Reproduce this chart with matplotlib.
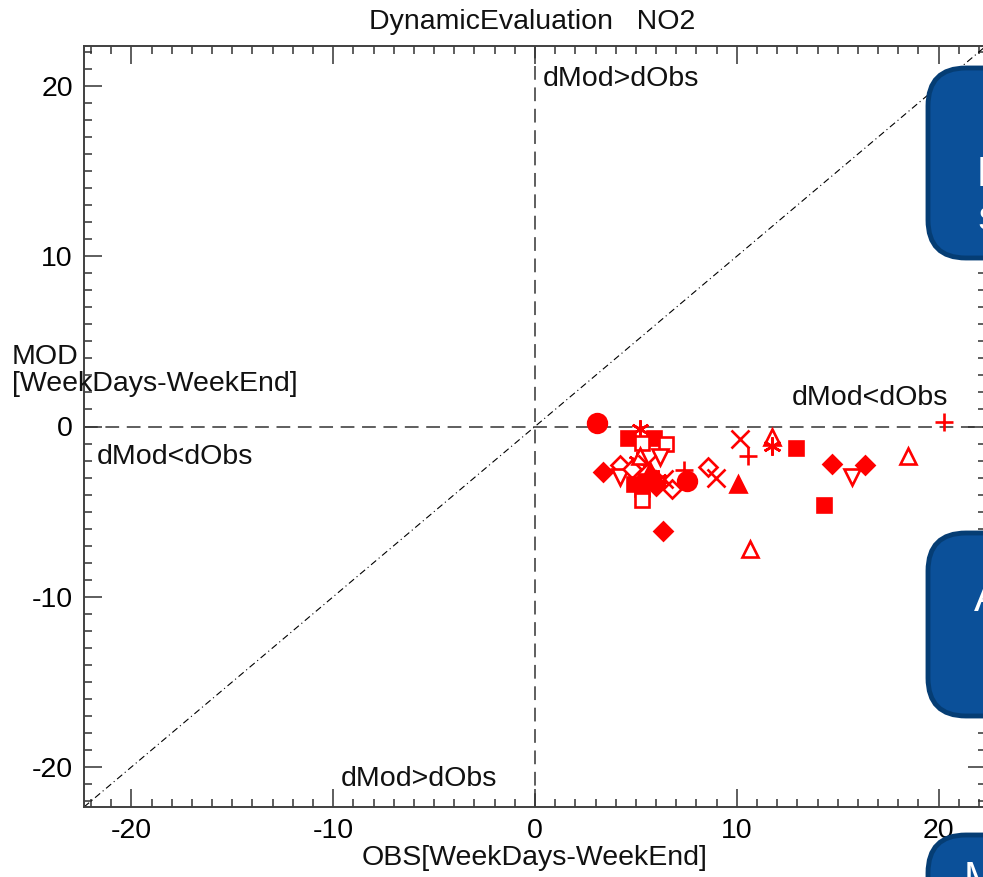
import matplotlib
matplotlib.use("Agg")
import matplotlib.pyplot as plt
from matplotlib.patches import FancyBboxPatch
from matplotlib.transforms import IdentityTransform
from matplotlib.ticker import MultipleLocator

plt.rcParams["font.family"] = ["Liberation Sans", "DejaVu Sans"]
plt.rcParams["axes.unicode_minus"] = False

# station values: OBS and MOD weekday-weekend differences
obs = [3.07, 5.20, 4.60, 5.89, 5.30, 6.49, 6.19, 3.37, 4.21, 5.05,
       4.21, 4.80, 5.45, 5.79, 5.30, 5.30, 6.09, 6.78, 7.52, 7.38,
       8.56, 8.96, 6.34, 10.15, 10.54, 10.05, 11.73, 11.73, 12.92, 14.31,
       10.64, 14.70, 16.34, 15.69, 18.47, 20.25, 6.39, 5.69, 5.20, 4.90,
       6.00, 5.55]
mod = [0.18, -0.12, -0.65, -0.65, -0.94, -1.00, -1.82, -2.65, -2.24, -2.00,
       -2.94, -2.47, -3.18, -2.94, -3.65, -4.29, -3.06, -3.70, -3.18, -2.53,
       -2.35, -3.00, -6.12, -0.71, -1.71, -3.35, -0.59, -1.12, -1.24, -4.59,
       -7.18, -2.18, -2.29, -2.94, -1.71, 0.29, -3.06, -2.59, -1.76, -3.40,
       -3.50, -2.20]
kind = ["circle", "asterisk", "square", "square", "square_open", "square_open", "tri_down_open",
        "diamond", "diamond_open", "asterisk", "tri_down_open", "diamond_open", "square", "diamond",
        "square", "square_open", "asterisk", "diamond_open", "circle", "plus",
        "diamond_open", "cross", "diamond", "cross", "plus", "tri_up", "tri_up_open", "asterisk",
        "square", "square", "tri_up_open", "diamond", "diamond", "tri_down_open", "tri_up_open",
        "plus", "cross", "tri_up", "tri_up_open", "square", "diamond", "cross"]

styles = {
    "circle": dict(marker="o", ms=13.5, filled=True),
    "square": dict(marker="s", ms=10, filled=True),
    "square_open": dict(marker="s", ms=10, filled=False),
    "diamond": dict(marker="D", ms=9, filled=True),
    "diamond_open": dict(marker="D", ms=9, filled=False),
    "tri_up": dict(marker="^", ms=11.5, filled=True),
    "tri_up_open": dict(marker="^", ms=11.5, filled=False),
    "tri_down_open": dict(marker="v", ms=11.5, filled=False),
    "plus": dict(marker="+", ms=13, filled=False),
    "cross": dict(marker="x", ms=13, filled=False),
    "asterisk": dict(marker=(6, 2, 0), ms=13, filled=False),
}

red = "#ff0000"
lim = 22.35

fig = plt.figure(figsize=(9.83, 8.77), dpi=100)
ax = fig.add_axes([84 / 983, 70 / 877, 902 / 983, 761 / 877])
ax.set_xlim(-lim, lim)
ax.set_ylim(-lim, lim)

ax.plot([-lim, lim], [-lim, lim], color="black", lw=0.8, ls=(0, (6, 3, 1, 3)))
ax.axhline(0, color="#333333", lw=1.1, ls=(0, (9, 5)))
ax.axvline(0, color="#333333", lw=1.1, ls=(0, (9, 5)))

for x, y, k in zip(obs, mod, kind):
    st = styles[k]
    ax.plot(x, y, marker=st["marker"], ms=st["ms"], ls="none",
            mec=red, mfc=red if st["filled"] else "white", mew=1.9, clip_on=False)

txt = dict(fontsize=20.5, color="#111111", va="center")
ax.text(0.4, 20.4, "dMod>dObs", ha="left", **txt)
ax.text(-9.65, -20.7, "dMod>dObs", ha="left", **txt)
ax.text(-21.7, -1.82, "dMod<dObs", ha="left", **txt)
ax.text(12.72, 1.65, "dMod<dObs", ha="left", **txt)

ax.xaxis.set_major_locator(MultipleLocator(10))
ax.yaxis.set_major_locator(MultipleLocator(10))
ax.xaxis.set_minor_locator(MultipleLocator(1))
ax.yaxis.set_minor_locator(MultipleLocator(1))
ax.tick_params(which="both", direction="in", top=True, right=True, color="#333333",
               labelsize=20.5, width=1.1)
ax.tick_params(which="major", length=13, pad=8)
ax.tick_params(which="minor", length=6)
for s in ax.spines.values():
    s.set_color("#404040")
    s.set_linewidth(1.4)

fig.text(532 / 983, 1 - 22 / 877, "DynamicEvaluation   NO2", ha="center", va="center",
         fontsize=20.5, color="#111111")
fig.text(535 / 983, 1 - 858 / 877, "OBS[WeekDays-WeekEnd]", ha="center", va="center",
         fontsize=20.5, color="#111111")
fig.text(12 / 983, 1 - 371 / 877, "MOD\n[WeekDays-WeekEnd]", ha="left", va="center",
         fontsize=20.5, color="#111111", linespacing=1.05)

# overlapping slide boxes (pixel coordinates, origin bottom-left), cut by the right edge
boxes = [(928, 877 - 258, 190), (928, 877 - 716, 183), (928, 877 - 1010, 175)]
for bx, by, bh in boxes:
    p = FancyBboxPatch((bx, by), 200, bh, boxstyle="round,pad=0,rounding_size=38",
                       fc="#0b5099", ec="#053d74", lw=3.5, transform=IdentityTransform())
    fig.add_artist(p)

fig.text(977 / 983, 1 - 175 / 877, "D", color="white", fontsize=30, ha="left", va="center")
fig.text(977 / 983, 1 - 222 / 877, "S", color="white", fontsize=24, ha="left", va="center")
fig.text(974 / 983, 1 - 600 / 877, "A", color="white", fontsize=30, ha="left", va="center")
fig.text(964 / 983, 1 - 880 / 877, "M", color="white", fontsize=30, ha="left", va="center")

fig.savefig("out.png", dpi=100)
